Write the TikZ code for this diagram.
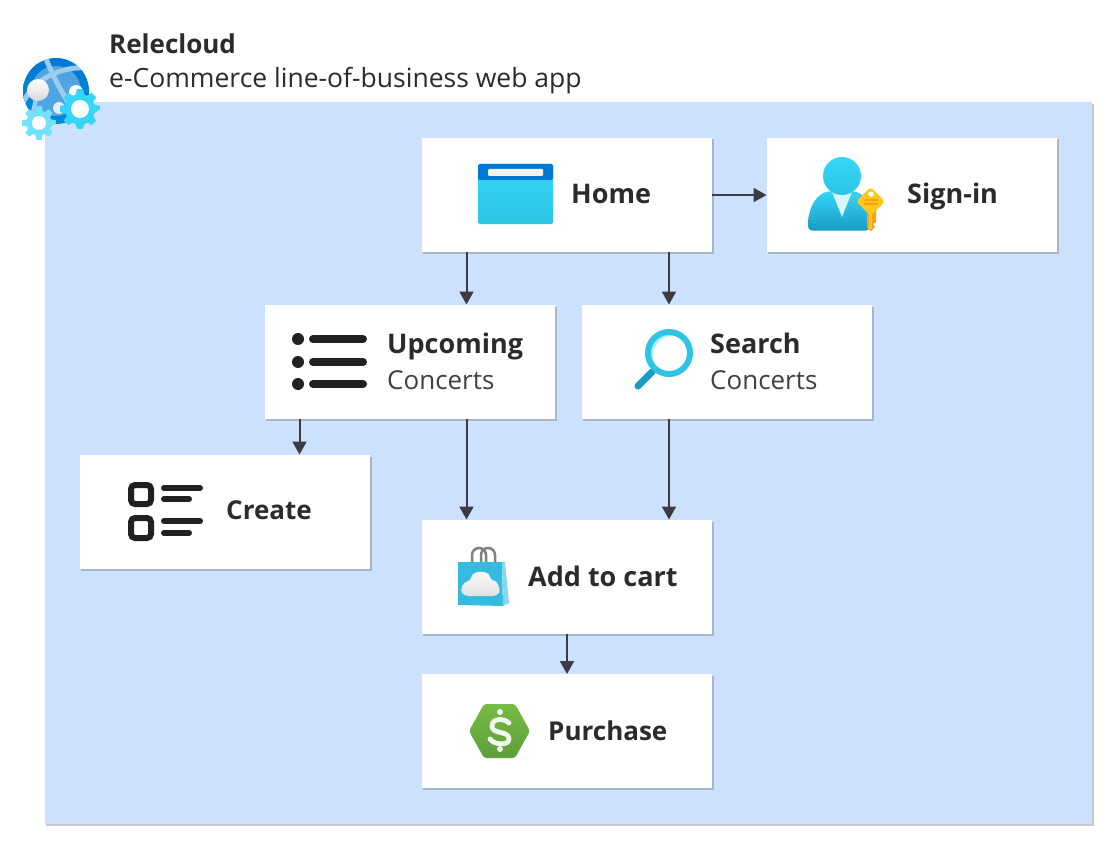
\documentclass[tikz,border=0pt]{standalone}
\usepackage{fontspec}
\setmainfont{Open Sans}
\usetikzlibrary{arrows.meta,calc}
\definecolor{panel}{HTML}{CCE1FD}
\definecolor{edgegrey}{HTML}{A9B6C8}
\definecolor{panelgrey}{HTML}{C6CAD0}
\definecolor{ink}{HTML}{2B2B2B}
\definecolor{arrowink}{HTML}{3B3B43}
\definecolor{icondark}{HTML}{212121}
\definecolor{cyanA}{HTML}{35D6F8}
\definecolor{cyanB}{HTML}{2EC4E4}
\definecolor{cyanC}{HTML}{1A9BC4}
\definecolor{blueA}{HTML}{0078D4}
\definecolor{bagblue}{HTML}{35BBE0}
\definecolor{greenA}{HTML}{76BC45}
\definecolor{greenB}{HTML}{5E9E3A}
\definecolor{keyA}{HTML}{FFC61E}
\definecolor{keyB}{HTML}{FF9F10}
\tikzset{
  x=1pt,y=-1pt,
  cardbox/.style={fill=white,inner sep=0pt,minimum width=290pt,minimum height=114pt,anchor=north west},
  arr/.style={draw=arrowink,line width=2pt,-{Triangle[length=13pt,width=14pt]}},
  titlebold/.style={font=\fontsize{26}{30}\bfseries\selectfont,text=ink,anchor=base west,inner sep=0pt},
  titleplain/.style={font=\fontsize{26.5}{30}\selectfont,text=ink,anchor=base west,inner sep=0pt},
  lbl/.style={font=\fontsize{27}{30}\bfseries\selectfont,text=ink,anchor=base west,inner sep=0pt},
  lblb/.style={font=\fontsize{26}{30}\bfseries\selectfont,text=ink,anchor=base west,inner sep=0pt},
  sublbl/.style={font=\fontsize{26}{30}\selectfont,text=ink!90,anchor=base west,inner sep=0pt},
  iconline/.style={draw=icondark,line cap=round,line width=7pt},
}
\newcommand{\cogwheel}[5]{% x y outer inner colourfill
  \fill[#5] (#1,#2) ++(0:#3) \foreach \a in {0,45,...,315}{
     -- ($(#1,#2)+(\a-9:#3*1pt)$) -- ($(#1,#2)+(\a+9:#3*1pt)$) -- ($(#1,#2)+(\a+17:#4*1pt)$) -- ($(#1,#2)+(\a+28:#4*1pt)$)
  } -- cycle;
}
\begin{document}
\begin{tikzpicture}
\useasboundingbox (0,0) rectangle (1117,848);
\fill[white] (0,0) rectangle (1117,848);
% panel
\fill[panelgrey] (46,104) rectangle (1094,825.5);
\fill[panel] (45,102) rectangle (1092,823.5);
% cards
\foreach \n/\x/\y in {home/422/137.5,signin/766.5/137.5,upcoming/264.5/304.5,search/581.5/304.5,create/79.5/454.5,cart/422/519.5,purchase/422/674}{
  \fill[edgegrey] (\x+1,\y+2) rectangle (\x+292,\y+116);
  \node[cardbox,name=\n] at (\x,\y) {};
}
% connectors
\coordinate (xa) at (466.5,0); \coordinate (xb) at (669,0); \coordinate (xc) at (299.5,0); \coordinate (xd) at (567,0); \coordinate (ya) at (0,195);
\draw[arr] (home.east |- ya) -- (signin.west |- ya);
\draw[arr] (home.south -| xa) -- (upcoming.north -| xa);
\draw[arr] (home.south -| xb) -- (search.north -| xb);
\draw[arr] (upcoming.south -| xc) -- (create.north -| xc);
\draw[arr] (upcoming.south -| xa) -- (cart.north -| xa);
\draw[arr] (search.south -| xb) -- (cart.north -| xb);
\draw[arr] (cart.south -| xd) -- (purchase.north -| xd);
% labels
\node[titlebold] (t1) at (109,54) {Relecloud};
\node[titleplain] (t2) at (109,87.5) {e-Commerce line-of-business web app};
\node[lbl] (l1) at (571,204) {Home};
\node[lbl] (l2) at (907,204) {Sign-in};
\node[lbl] (l3) at (387,353) {Upcoming};
\node[sublbl] (l3b) at (387,389) {Concerts};
\node[lbl] (l4) at (710,353) {Search};
\node[sublbl] (l4b) at (710,389) {Concerts};
\node[lblb] (l5) at (226,519) {Create};
\node[lbl] (l6) at (528,586) {Add to cart};
\node[lblb] (l7) at (548,740) {Purchase};
% globe icon
\shade[top color=blueA,bottom color=blueA!85!cyan] (56,91) circle (33);
\fill[white!40!blueA,opacity=.8] (56,91) circle (25);
\begin{scope}
\clip (56,91) circle (33);
\draw[white!62!blueA,line width=5pt] (45,56) .. controls (52,75) and (65,100) .. (82,122);
\draw[white!62!blueA,line width=5pt] (20,110) .. controls (30,80) and (60,65) .. (92,68);
\draw[white!62!blueA,line width=4pt] (38,90) -- (30,125);
\end{scope}
\shade[top color=white,bottom color=black!15] (38,90) circle (11);
\fill[white] (76,92) circle (7);
\fill[black!8] (59,108) circle (6);
\cogwheel{80}{109}{20}{15}{cyanA}
\fill[cyanB] (66,114) arc[start angle=160,end angle=20,radius=15] .. controls (90,128) and (70,128) .. cycle;
\fill[white] (80,109) circle (9);
\cogwheel{39}{123}{17}{12.5}{cyanA!70!white}
\fill[white] (39,123) circle (7);
% home icon
\shade[top color=cyanA,middle color=cyanA,bottom color=cyanB,rounded corners=1.5pt] (478,164) rectangle (553,224);
\fill[blueA,rounded corners=1.5pt] (478,164) -- (553,164) -- (553,180) -- (478,180) -- cycle;
\fill[white!95!black,rounded corners=1pt] (488,169) rectangle (543,176);
% sign-in icon
\shade[top color=cyanA,bottom color=cyanC,rounded corners=4pt] (808,230.5) .. controls (808,205) and (818,193) .. (832,191) -- (852,191) .. controls (862,193) and (868,200) .. (870,210) -- (870,230.5) -- cycle;
\fill[white!80!cyanA] (832,192) -- (852,192) -- (842,217) -- cycle;
\shade[top color=cyanA,bottom color=cyanB] (842,176) circle (19);
\fill[keyB] (867,208) -- (876,208) -- (876,222) -- (873,224) -- (875,227) -- (871,231) -- (867,228) -- cycle;
\fill[keyA,rounded corners=3.5pt] (870.5,187) -- (885,201.5) -- (870.5,216) -- (856,201.5) -- cycle;
\fill[keyB] (864,199) rectangle (878,200.5);
\fill[keyB] (864,203) rectangle (878,204.5);
\fill[keyA] (869,212) rectangle (872,229);
\fill[white] (871,194) circle (2.7);
% list icon
\foreach \yy in {339,362,384}{
  \fill[icondark] (298,\yy) circle (6);
  \draw[iconline,line width=8pt] (313,\yy) -- (363,\yy);
}
% search icon
\fill[white!60!cyanA] (669,353) circle (22);
\fill[white] (673,356) circle (20);
\draw[cyanC,line width=7pt,line cap=round] (652,372) -- (638,386);
\draw[cyanB,line width=6pt] (669,353) circle (21);
% create icon
\draw[icondark,line width=6pt,rounded corners=4pt] (131,485) rectangle (151,504);
\draw[icondark,line width=6pt,rounded corners=4pt] (131,518) rectangle (151,538);
\draw[iconline,line width=6pt] (164,488) -- (200,488);
\draw[iconline,line width=6pt] (164,499) -- (189,499);
\draw[iconline,line width=6pt] (164,521) -- (200,521);
\draw[iconline,line width=6pt] (164,533) -- (189,533);
% bag icon
\draw[black!50,line width=2.5pt] (472,564) -- (472,555) arc[start angle=180,end angle=360,radius=7] -- (486,564);
\draw[black!50,line width=2.5pt] (481,564) -- (481,555) arc[start angle=180,end angle=360,radius=7] -- (495,564);
\fill[bagblue] (458,562) -- (502,562) -- (503,606) -- (458,605) -- cycle;
\fill[bagblue!60!white] (502,562) -- (505,562) -- (509,603) -- (503,606) -- cycle;
\shade[top color=white,bottom color=black!12,rounded corners=4pt] (464,596) .. controls (460,590) and (463,582) .. (471,581) .. controls (472,571) and (488,569) .. (491,581) .. controls (497,581) and (501,590) .. (497,596) -- cycle;
% purchase icon
\shade[top color=greenA,bottom color=greenB,rounded corners=3pt] (484,704) -- (515,704) -- (530,731) -- (515,758) -- (484,758) -- (469,731) -- cycle;
\fill[white!90!greenA] (500,712) circle (3);
\fill[white!90!greenA] (500,749) circle (3);
\draw[white!90!greenA,line width=4.8pt,line cap=round] (509,723) .. controls (504,718) and (492,718) .. (492,726) .. controls (492,735) and (509,730) .. (509,739) .. controls (509,746) and (494,745) .. (490,739);
\end{tikzpicture}
\end{document}
